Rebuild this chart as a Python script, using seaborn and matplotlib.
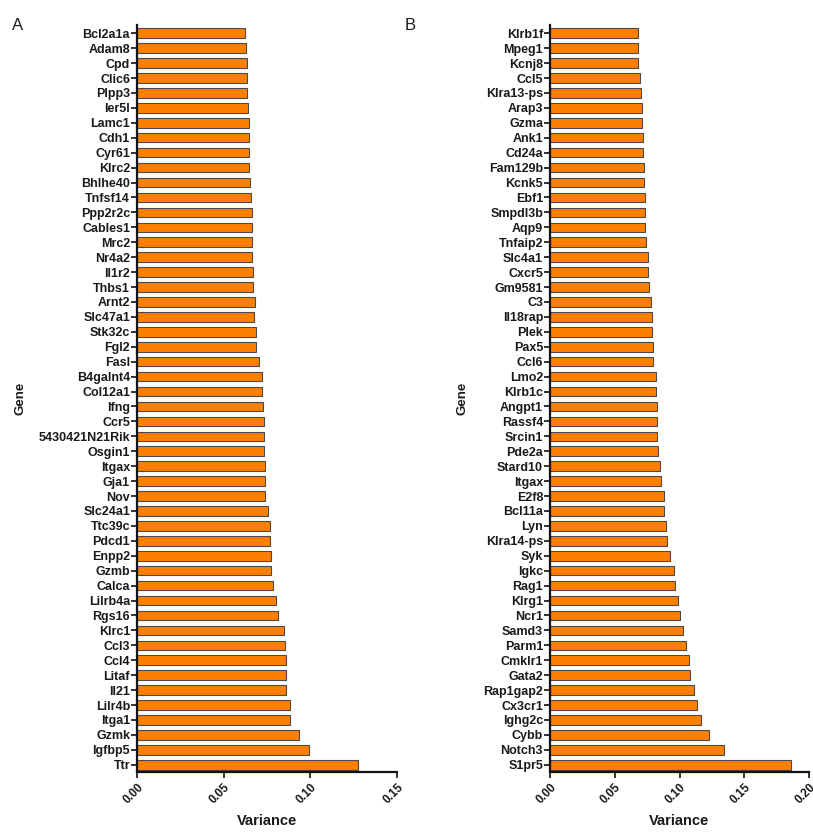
import matplotlib
matplotlib.use("Agg")
import matplotlib.pyplot as plt
import seaborn as sns
import pandas as pd

genes_a = ["Bcl2a1a", "Adam8", "Cpd", "Clic6", "Plpp3", "Ier5l", "Lamc1", "Cdh1", "Cyr61", "Klrc2",
           "Bhlhe40", "Tnfsf14", "Ppp2r2c", "Cables1", "Mrc2", "Nr4a2", "Il1r2", "Thbs1", "Arnt2", "Slc47a1",
           "Stk32c", "Fgl2", "Fasl", "B4galnt4", "Col12a1", "Ifng", "Ccr5", "5430421N21Rik", "Osgin1", "Itgax",
           "Gja1", "Nov", "Slc24a1", "Ttc39c", "Pdcd1", "Enpp2", "Gzmb", "Calca", "Lilrb4a", "Rgs16",
           "Klrc1", "Ccl3", "Ccl4", "Litaf", "Il21", "Lilr4b", "Itga1", "Gzmk", "Igfbp5", "Ttr"]
var_a = [0.0623, 0.0627, 0.0633, 0.0633, 0.0635, 0.0643, 0.0645, 0.0645, 0.0645, 0.0647,
         0.0654, 0.0656, 0.0664, 0.0664, 0.0666, 0.0666, 0.0670, 0.0670, 0.0679, 0.0677,
         0.0685, 0.0687, 0.0702, 0.0721, 0.0723, 0.0727, 0.0731, 0.0731, 0.0735, 0.0737,
         0.0737, 0.0741, 0.0758, 0.0766, 0.0768, 0.0775, 0.0775, 0.0787, 0.0804, 0.0814,
         0.0848, 0.0856, 0.0858, 0.0860, 0.0860, 0.0885, 0.0885, 0.0935, 0.0993, 0.1275]

genes_b = ["Klrb1f", "Mpeg1", "Kcnj8", "Ccl5", "Klra13-ps", "Arap3", "Gzma", "Ank1", "Cd24a", "Fam129b",
           "Kcnk5", "Ebf1", "Smpdl3b", "Aqp9", "Tnfaip2", "Slc4a1", "Cxcr5", "Gm9581", "C3", "Il18rap",
           "Plek", "Pax5", "Ccl6", "Lmo2", "Klrb1c", "Angpt1", "Rassf4", "Srcin1", "Pde2a", "Stard10",
           "Itgax", "E2f8", "Bcl11a", "Lyn", "Klra14-ps", "Syk", "Igkc", "Rag1", "Klrg1", "Ncr1",
           "Samd3", "Parm1", "Cmklr1", "Gata2", "Rap1gap2", "Cx3cr1", "Ighg2c", "Cybb", "Notch3", "S1pr5"]
var_b = [0.0677, 0.0680, 0.0682, 0.0695, 0.0705, 0.0708, 0.0710, 0.0718, 0.0721, 0.0728,
         0.0728, 0.0731, 0.0731, 0.0736, 0.0744, 0.0754, 0.0759, 0.0767, 0.0777, 0.0785,
         0.0790, 0.0793, 0.0798, 0.0816, 0.0816, 0.0824, 0.0824, 0.0829, 0.0831, 0.0847,
         0.0857, 0.0878, 0.0878, 0.0898, 0.0901, 0.0927, 0.0960, 0.0965, 0.0988, 0.1004,
         0.1030, 0.1053, 0.1073, 0.1079, 0.1115, 0.1133, 0.1166, 0.1228, 0.1346, 0.1861]

xticks_a = [0.00, 0.05, 0.10, 0.15]
xticks_b = [0.00, 0.05, 0.10, 0.15, 0.20]

sns.set_theme(style="ticks")
plt.rcParams["font.family"] = ["Liberation Sans", "DejaVu Sans"]

W, H = 813, 832
fig = plt.figure(figsize=(W / 100, H / 100), dpi=100)

def px_axes(x0, x1, ytop, ybot):
    return fig.add_axes([x0 / W, 1 - ybot / H, (x1 - x0) / W, (ybot - ytop) / H])

ax_a = px_axes(137, 397, 25, 771.5)
ax_b = px_axes(550, 809, 25, 771.5)

BAR = "#FF8000"
EDGE = "#4a4a4a"
TXT = "#1a1a1a"

for ax, genes, vals, ticks in [(ax_a, genes_a, var_a, xticks_a), (ax_b, genes_b, var_b, xticks_b)]:
    df = pd.DataFrame({"Gene": genes, "Variance": vals})
    sns.barplot(data=df, x="Variance", y="Gene", orient="h", color=BAR, saturation=1,
                edgecolor=EDGE, linewidth=0.8, width=0.64, ax=ax)
    ax.set_xlim(ticks[0], ticks[-1])
    ax.set_ylim(len(genes) - 0.55, -0.55)
    ax.set_xticks(ticks)
    ax.set_xticklabels([f"{t:.2f}" for t in ticks], rotation=45, ha="right", va="top",
                       rotation_mode="anchor", fontsize=8.5, fontweight="bold", color=TXT)
    ax.set_yticks(range(len(genes)))
    ax.set_yticklabels(genes, fontsize=9, fontweight="bold", color=TXT)
    ax.tick_params(axis="y", length=4, width=1.2, pad=1, color="#111111")
    ax.tick_params(axis="x", length=4, width=1.2, pad=3, color="#111111")
    ax.set_xlabel("")
    ax.set_ylabel("")
    for s in ["top", "right"]:
        ax.spines[s].set_visible(False)
    for s in ["left", "bottom"]:
        ax.spines[s].set_linewidth(1.6)
        ax.spines[s].set_color("#111111")

fig.text(267 / W, 1 - 821 / H, "Variance", ha="center", va="center", fontsize=10.5, fontweight="bold", color=TXT)
fig.text(679.5 / W, 1 - 821 / H, "Variance", ha="center", va="center", fontsize=10.5, fontweight="bold", color=TXT)
fig.text(20 / W, 1 - 398 / H, "Gene", ha="center", va="center", rotation=90, fontsize=9.5, fontweight="bold", color=TXT)
fig.text(463 / W, 1 - 398 / H, "Gene", ha="center", va="center", rotation=90, fontsize=9.5, fontweight="bold", color=TXT)
fig.text(18 / W, 1 - 25 / H, "A", ha="center", va="center", fontsize=12, color=TXT)
fig.text(410 / W, 1 - 25 / H, "B", ha="center", va="center", fontsize=12, color=TXT)

fig.savefig("out.png", dpi=100)
